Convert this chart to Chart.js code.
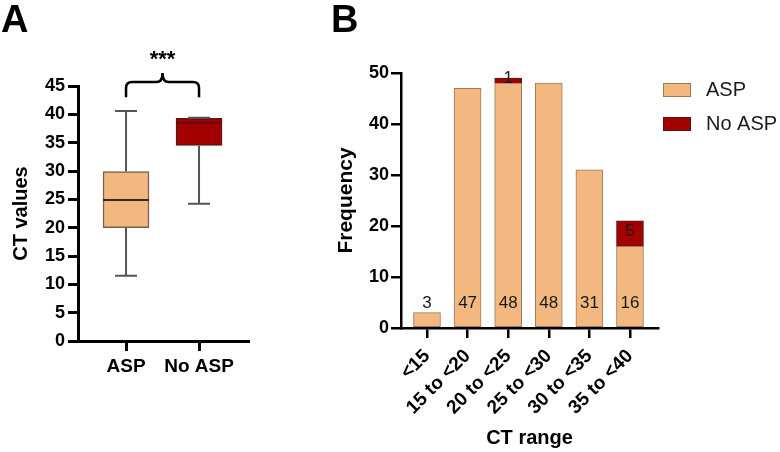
<!DOCTYPE html>
<html><head><meta charset="utf-8">
<script src="https://cdn.jsdelivr.net/npm/chart.js@4.4.1/dist/chart.umd.min.js"></script>
<style>
html,body{margin:0;padding:0;background:#fff;}
#wrap{position:relative;width:780px;height:452px;overflow:hidden;font-family:"Liberation Sans",Arial,sans-serif;}
.panel{position:absolute;top:0px;font-weight:bold;font-size:38px;line-height:1;color:#000;}
canvas{position:absolute;top:0;}
</style></head><body>
<div id="wrap">
<canvas id="ca" width="300" height="452" style="left:0"></canvas>
<canvas id="cb" width="460" height="452" style="left:320px"></canvas>
<div class="panel" style="left:1px">A</div>
<div class="panel" style="left:331px">B</div>
</div>
<script>
// ---- Panel A data (box plot) ----
const groups = ['ASP', 'No ASP'];
const boxMin = [11.5, 24.2];
const boxQ1 = [20.0, 34.5];
const boxMedian = [24.9, 38.5];
const boxQ3 = [29.9, 39.3];
const boxMax = [40.6, 39.4];
const yTicksA = [0, 5, 10, 15, 20, 25, 30, 35, 40, 45];
const sigLabel = '***';

// ---- Panel B data (stacked bars) ----
const ranges = ['<15', '15 to <20', '20 to <25', '25 to <30', '30 to <35', '35 to <40'];
const aspCounts = [3, 47, 48, 48, 31, 16];
const noAspCounts = [0, 0, 1, 0, 0, 5];
const yTicksB = [0, 10, 20, 30, 40, 50];
const seriesNames = ['ASP', 'No ASP'];

const FONT = '"Liberation Sans", Arial, sans-serif';
Chart.defaults.font.family = FONT;
Chart.defaults.color = '#000';

const fillCol = ['#F2B880', '#A30000'];
const edgeCol = ['#7a6050', '#5a1515'];
const medCol = ['#3a2a20', '#6a0a0a'];

// ---------- Chart A ----------
const boxPlugin = {
  id: 'boxExtras',
  afterDatasetsDraw(chart) {
    const {ctx, scales: {x, y}} = chart;
    ctx.save();
    groups.forEach((g, i) => {
      const cx = x.getPixelForValue(i);
      const half = 23, cap = 11;
      ctx.strokeStyle = '#555';
      ctx.lineWidth = 2;
      ctx.beginPath();
      ctx.moveTo(cx, y.getPixelForValue(boxQ3[i])); ctx.lineTo(cx, y.getPixelForValue(boxMax[i]));
      ctx.moveTo(cx, y.getPixelForValue(boxQ1[i])); ctx.lineTo(cx, y.getPixelForValue(boxMin[i]));
      ctx.moveTo(cx - cap, y.getPixelForValue(boxMax[i])); ctx.lineTo(cx + cap, y.getPixelForValue(boxMax[i]));
      ctx.moveTo(cx - cap, y.getPixelForValue(boxMin[i])); ctx.lineTo(cx + cap, y.getPixelForValue(boxMin[i]));
      ctx.stroke();
      ctx.strokeStyle = medCol[i];
      ctx.lineWidth = 2;
      ctx.beginPath();
      const my = y.getPixelForValue(boxMedian[i]);
      ctx.moveTo(cx - half, my); ctx.lineTo(cx + half, my);
      ctx.stroke();
    });
    // significance bracket
    const x0 = x.getPixelForValue(0), x1 = x.getPixelForValue(1);
    const yEnd = y.getPixelForValue(43.0), yBar = y.getPixelForValue(45.7), yTip = y.getPixelForValue(47.3);
    const xm = (x0 + x1) / 2, r = 6;
    ctx.strokeStyle = '#000'; ctx.lineWidth = 2.5;
    ctx.beginPath();
    ctx.moveTo(x0, yEnd);
    ctx.lineTo(x0, yBar + r);
    ctx.quadraticCurveTo(x0, yBar, x0 + r, yBar);
    ctx.lineTo(xm - r, yBar);
    ctx.quadraticCurveTo(xm, yBar, xm, yTip);
    ctx.quadraticCurveTo(xm, yBar, xm + r, yBar);
    ctx.lineTo(x1 - r, yBar);
    ctx.quadraticCurveTo(x1, yBar, x1, yBar + r);
    ctx.lineTo(x1, yEnd);
    ctx.stroke();
    ctx.fillStyle = '#000';
    ctx.font = 'bold 22px ' + FONT;
    ctx.textAlign = 'center'; ctx.textBaseline = 'middle';
    ctx.fillText(sigLabel, xm, y.getPixelForValue(50.0) + 2);
    ctx.restore();
  }
};

new Chart(document.getElementById('ca'), {
  type: 'bar',
  data: {
    datasets: [{
      data: groups.map((g, i) => ({x: i, y: [boxQ1[i], boxQ3[i]]})),
      backgroundColor: fillCol,
      borderColor: edgeCol,
      borderWidth: 1.5,
      borderSkipped: false,
      barThickness: 46
    }]
  },
  options: {
    responsive: false, animation: false,
    layout: {padding: {top: 86, right: 52, bottom: 0, left: 0}},
    plugins: {legend: {display: false}, tooltip: {enabled: false}},
    scales: {
      x: {
        type: 'linear', min: -0.658, max: 1.671, offset: false,
        afterBuildTicks(s) { s.ticks = groups.map((g, i) => ({value: i})); },
        afterFit(s) { s.height = 111; },
        ticks: {callback: v => groups[v], font: {size: 19, weight: 'bold'}, color: '#000', padding: 4, maxRotation: 0, autoSkip: false},
        grid: {offset: false, drawOnChartArea: false, drawTicks: true, tickLength: 10, color: '#000', lineWidth: 3},
        border: {display: true, color: '#000', width: 3}
      },
      y: {
        min: 0, max: 45,
        afterBuildTicks(s) { s.ticks = yTicksA.map(v => ({value: v})); },
        afterFit(s) { s.width = 78; },
        ticks: {font: {size: 18, weight: 'bold'}, color: '#000', padding: 3},
        grid: {drawOnChartArea: false, drawTicks: true, tickLength: 10, color: '#000', lineWidth: 3},
        border: {display: true, color: '#000', width: 3},
        title: {display: true, text: 'CT values', font: {size: 20, weight: 'bold'}, color: '#000', padding: {top: 9, bottom: 0}}
      }
    }
  },
  plugins: [boxPlugin]
});

// ---------- Chart B ----------
const labelPlugin = {
  id: 'barLabels',
  afterDatasetsDraw(chart) {
    const {ctx, scales: {y}} = chart;
    ctx.save();
    ctx.font = '17px ' + FONT;
    ctx.fillStyle = '#1a1a1a';
    ctx.textAlign = 'center'; ctx.textBaseline = 'middle';
    const m0 = chart.getDatasetMeta(0), m1 = chart.getDatasetMeta(1);
    aspCounts.forEach((v, i) => {
      if (v > 0) ctx.fillText(String(v), m0.data[i].x, y.getPixelForValue(4.9));
    });
    noAspCounts.forEach((v, i) => {
      if (v > 0) {
        const el = m1.data[i];
        ctx.fillText(String(v), el.x, (el.y + el.base) / 2 - 2);
      }
    });
    // legend
    const ca = chart.chartArea;
    ctx.font = '20px ' + FONT;
    ctx.textAlign = 'left';
    chart.data.datasets.forEach((ds, k) => {
      const top = ca.top + 10 + k * 34;
      ctx.fillStyle = ds.backgroundColor;
      ctx.fillRect(ca.right + 5, top, 28, 14);
      ctx.strokeStyle = ds.borderColor; ctx.lineWidth = 1;
      ctx.strokeRect(ca.right + 5.5, top + 0.5, 27, 13);
      ctx.fillStyle = '#1a1a1a';
      ctx.fillText(ds.label, ca.right + 48, top + 7.5);
    });
    ctx.restore();
  }
};

new Chart(document.getElementById('cb'), {
  type: 'bar',
  data: {
    datasets: [
      {label: seriesNames[0], data: aspCounts.map((v, i) => ({x: i, y: v})),
       backgroundColor: '#F2B880', borderColor: '#9c7b5c', borderWidth: 1, borderSkipped: false, barThickness: 27},
      {label: seriesNames[1], data: noAspCounts.map((v, i) => ({x: i, y: v > 0 ? v : null})),
       backgroundColor: '#A30000', borderColor: '#5a1515', borderWidth: 1, borderSkipped: false, barThickness: 27}
    ]
  },
  options: {
    responsive: false, animation: false,
    layout: {padding: {top: 73, right: 122, bottom: 0, left: 0}},
    plugins: {legend: {display: false}, tooltip: {enabled: false}},
    scales: {
      x: {
        type: 'linear', min: -0.64, max: 5.69, stacked: true, offset: false,
        afterBuildTicks(s) { s.ticks = ranges.map((r, i) => ({value: i})); },
        afterFit(s) { s.height = 124; },
        ticks: {callback: v => ranges[v], font: {size: 19, weight: 'bold'}, color: '#000', padding: 7, minRotation: 45, maxRotation: 45, autoSkip: false},
        grid: {offset: false, drawOnChartArea: false, drawTicks: true, tickLength: 10, color: '#000', lineWidth: 2.5},
        border: {display: true, color: '#000', width: 2.5},
        title: {display: true, text: 'CT range', font: {size: 20, weight: 'bold'}, color: '#000', padding: {top: 0, bottom: 2}}
      },
      y: {
        min: 0, max: 50, stacked: true,
        afterBuildTicks(s) { s.ticks = yTicksB.map(v => ({value: v})); },
        afterFit(s) { s.width = 81; },
        ticks: {font: {size: 18, weight: 'bold'}, color: '#000', padding: 2},
        grid: {drawOnChartArea: false, drawTicks: true, tickLength: 10, color: '#000', lineWidth: 2.5},
        border: {display: true, color: '#000', width: 2.5},
        title: {display: true, text: 'Frequency', font: {size: 21, weight: 'bold'}, color: '#000', padding: {top: 14, bottom: 0}}
      }
    }
  },
  plugins: [labelPlugin]
});
</script>
</body></html>
